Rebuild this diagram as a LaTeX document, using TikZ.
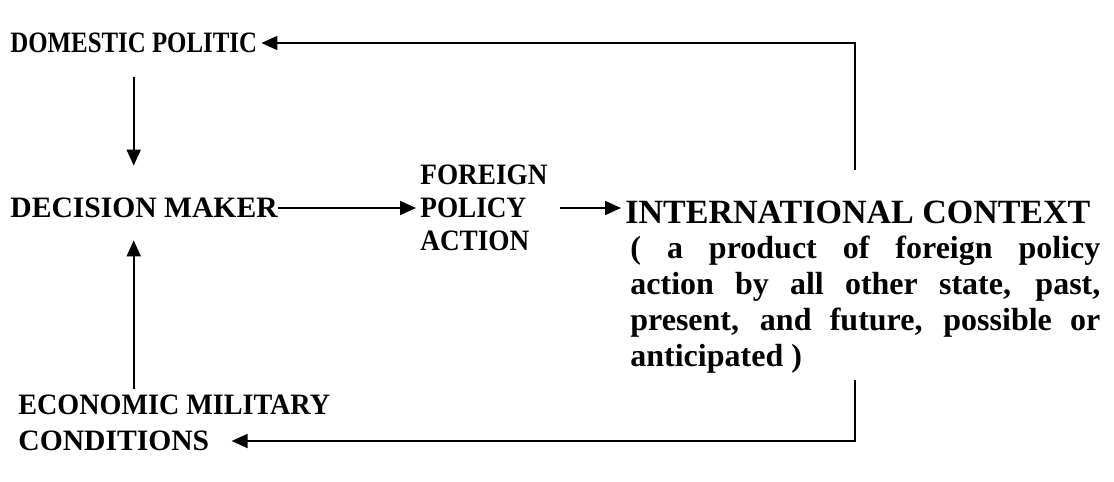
\documentclass[tikz,border=0pt]{standalone}
\usepackage{fontspec}
\setmainfont{Liberation Serif}
\usetikzlibrary{arrows.meta, positioning, calc}

\tikzset{
  factor/.style={font=\bfseries\fontsize{14.8}{16.5}\selectfont, inner sep=0pt, align=left},
  flow/.style={-{Triangle[length=8pt, width=7pt]}, line width=0.9pt},
}

\begin{document}
\begin{tikzpicture}[x=0.5pt, y=-0.5pt]
  \useasboundingbox (0,0) rectangle (1114,482);

  % Left column
  \node[factor, anchor=west] (dom) at (10,43) {\scalebox{0.84}[1]{DOMESTIC POLITIC}};
  \node[factor, anchor=west] (dec) at (10,208) {DECISION MAKER};
  \node[factor, anchor=west] (econ) at (18,405) {\scalebox{0.95}[1]{ECONOMIC MILITARY}};
  \node[factor, anchor=west] (cond) at (18,441) {CONDITIONS};

  % Foreign policy action
  \node[factor, anchor=west] (fpa) at (420,208) {\scalebox{0.92}[1]{FOREIGN}\\\scalebox{0.92}[1]{POLICY}\\\scalebox{0.92}[1]{ACTION}};

  % International context
  \node[factor, anchor=west, font={\bfseries\fontsize{17}{18}\selectfont}] (intl) at (625,212) {INTERNATIONAL CONTEXT};
  \node[factor, anchor=north west, text width=235pt, align=justify, font={\bfseries\fontsize{16}{18}\selectfont}] (desc) at (630,236) {
    ( a product of foreign policy\linebreak
    action by all other state, past,\linebreak
    present, and future, possible or\linebreak
    anticipated )
  };

  % Turning points of the feedback lines
  \coordinate (topturn) at (855,43);
  \coordinate (botturn) at (855,441);

  % Arrows
  \draw[flow, shorten <=12pt, shorten >=16pt] (dom.south) -- (dom.south |- dec.north);
  \draw[flow, shorten <=3pt, shorten >=11pt] (dom.south |- econ.north) -- (dom.south |- dec.south);
  \draw[flow, shorten >=2pt] (dec.east) -- (fpa.west);
  \draw[flow, shorten <=6pt, shorten >=2pt] (fpa.east) -- (fpa.east -| intl.west);
  \draw[flow, shorten <=15pt, shorten >=2pt] (intl.north -| topturn) -- (topturn) -- (dom.east);
  \draw[flow, shorten <=3pt, shorten >=11pt] (desc.south -| botturn) -- (botturn) -- (cond.east);
\end{tikzpicture}
\end{document}
